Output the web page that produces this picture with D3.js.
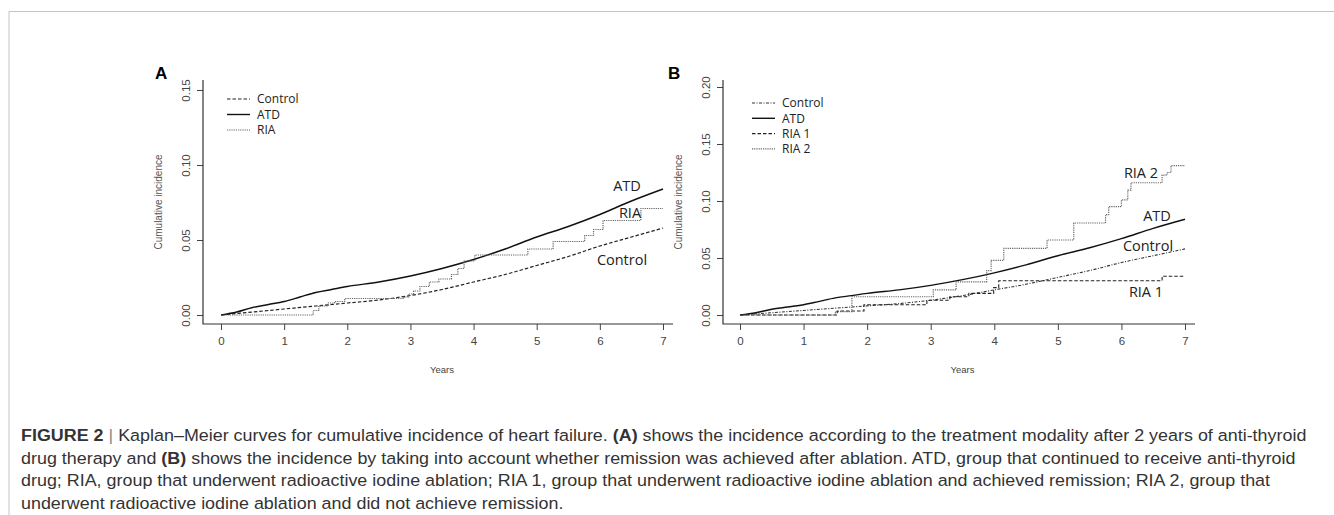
<!DOCTYPE html>
<html>
<head>
  <style>
    body { margin: 0; background: #fff; }
    svg { display: block; }
    .tick text { font-family: "Liberation Sans", Arial, sans-serif; font-size: 11.5px; fill: #444; }
    .tick line { stroke: #444; }
    .legend text, .endlab { font-family: "Open Sans", sans-serif; fill: #222; }
    .caption { font-family: "Liberation Sans", Arial, sans-serif; font-size: 17px; fill: #333; }
  </style>
</head>
<body>
  <script src="https://d3js.org/d3.v7.min.js"></script>
  <script>
    var years = [0, 1, 2, 3, 4, 5, 6, 7];
    var ticksA = [0, 0.05, 0.10, 0.15];
    var ticksB = [0, 0.05, 0.10, 0.15, 0.20];

    // smooth-looking curves (many events)
    var atd = [[0,0],[0.25,0.002],[0.5,0.005],[0.75,0.007],[1,0.009],[1.25,0.012],[1.5,0.015],[1.75,0.017],[2,0.019],[2.5,0.022],[3,0.026],[3.5,0.031],[4,0.037],[4.5,0.044],[5,0.052],[5.5,0.059],[6,0.067],[6.5,0.076],[7,0.084]];
    var control = [[0,0],[0.5,0.002],[1,0.004],[1.5,0.006],[2,0.008],[2.5,0.010],[3,0.013],[3.5,0.017],[4,0.022],[4.5,0.027],[5,0.033],[5.5,0.039],[6,0.046],[6.5,0.052],[7,0.058]];

    // step curves
    var ria = [[0,0],[1.46,0.003],[1.55,0.006],[1.7,0.008],[1.8,0.009],[1.96,0.011],[2.9,0.012],[2.97,0.014],[3.05,0.016],[3.15,0.019],[3.3,0.022],[3.45,0.024],[3.65,0.027],[3.75,0.031],[3.85,0.036],[4.02,0.040],[4.86,0.044],[5.26,0.049],[5.76,0.053],[5.9,0.057],[6.05,0.063],[6.65,0.071],[7,0.071]];
    var ria1 = [[0,0],[1.53,0.0035],[1.95,0.009],[2.94,0.013],[3.3,0.016],[3.6,0.019],[3.99,0.024],[4.07,0.030],[6.64,0.034],[7,0.034]];
    var ria2 = [[0,0],[1.5,0.003],[1.76,0.016],[3.04,0.022],[3.4,0.029],[3.88,0.039],[3.95,0.048],[4.15,0.0585],[4.83,0.0658],[5.25,0.0807],[5.75,0.088],[5.8,0.095],[6,0.101],[6.1,0.1096],[6.15,0.116],[6.64,0.1227],[6.72,0.125],[6.78,0.131],[7,0.131]];

    var captionLines = [
      [["FIGURE 2", true], [" | ", false], ["Kaplan–Meier curves for cumulative incidence of heart failure. ", false], ["(A)", true], [" shows the incidence according to the treatment modality after 2 years of anti-thyroid", false]],
      [["drug therapy and ", false], ["(B)", true], [" shows the incidence by taking into account whether remission was achieved after ablation. ATD, group that continued to receive anti-thyroid", false]],
      [["drug; RIA, group that underwent radioactive iodine ablation; RIA 1, group that underwent radioactive iodine ablation and achieved remission; RIA 2, group that", false]],
      [["underwent radioactive iodine ablation and did not achieve remission.", false]]
    ];
    var firstLineWidth = 1286;

    var W = 1334, H = 515;
    var svg = d3.select("body").append("svg").attr("width", W).attr("height", H);

    // frame
    svg.append("path").attr("d", "M9,515V11.5H1334").attr("fill", "none").attr("stroke", "#c4c4c4").attr("stroke-width", 1);

    function panel(opt) {
      var g = svg.append("g");
      var x = d3.scaleLinear().domain([0, 7]).range(opt.xr);
      var y = d3.scaleLinear().domain([0, opt.ymax]).range([315, opt.ytop]);

      g.append("g").attr("transform", "translate(0,324)")
        .call(d3.axisBottom(x).tickValues(years).tickSize(6).tickPadding(7).tickFormat(d3.format("d")))
        .call(function(a){ a.select(".domain").remove(); });

      var ya = g.append("g").attr("transform", "translate(" + opt.ax + ",0)")
        .call(d3.axisLeft(y).tickValues(opt.ticks).tickSize(6).tickFormat(d3.format(".2f")))
        .call(function(a){ a.select(".domain").remove(); });
      ya.selectAll(".tick text").attr("transform", "rotate(-90)").attr("x", 0).attr("y", -13)
        .attr("dy", "0").style("text-anchor", "middle");

      g.append("path").attr("d", "M" + opt.ax + ",80V324H" + (x(7) + 10))
        .attr("fill", "none").attr("stroke", "#333").attr("stroke-width", 1.2);

      g.append("text").attr("x", opt.lx).attr("y", 79)
        .attr("font-family", "Liberation Sans, Arial, sans-serif").attr("font-weight", "bold")
        .attr("font-size", 17).text(opt.letter);

      g.append("text").attr("transform", "translate(" + (opt.ax - 41) + ",202) rotate(-90)")
        .attr("text-anchor", "middle").attr("font-family", "Liberation Sans, Arial, sans-serif")
        .attr("font-size", 10).attr("fill", "#555").text("Cumulative incidence");

      g.append("text").attr("x", (x(0) + x(7)) / 2).attr("y", 373).attr("text-anchor", "middle")
        .attr("font-family", "Liberation Sans, sans-serif").attr("font-size", 9.5)
        .attr("fill", "#444").text("Years");

      opt.series.forEach(function(s, i) {
        var line = d3.line().x(function(d){ return x(d[0]); }).y(function(d){ return y(d[1]); })
          .curve(s.step ? d3.curveStepAfter : d3.curveMonotoneX);
        g.append("path").datum(s.data).attr("d", line).attr("fill", "none")
          .attr("stroke", s.color).attr("stroke-width", s.w)
          .attr("stroke-dasharray", s.dash);

        var ly = opt.legY + i * opt.legStep;
        var lg = g.append("g").attr("class", "legend");
        lg.append("line").attr("x1", opt.legX).attr("x2", opt.legX + 23).attr("y1", ly).attr("y2", ly)
          .attr("stroke", s.color).attr("stroke-width", s.w).attr("stroke-dasharray", s.dash);
        lg.append("text").attr("x", opt.legX + 30).attr("y", ly).attr("dy", "0.35em")
          .attr("font-size", 12).text(s.name);

        g.append("text").attr("class", "endlab").attr("x", s.lab[0]).attr("y", s.lab[1]).attr("dy", "0.35em")
          .attr("text-anchor", "middle").attr("font-size", 14.5).text(s.name);
      });
    }

    panel({
      letter: "A", lx: 155, ax: 203, xr: [221, 663], ymax: 0.15, ytop: 90, ticks: ticksA,
      legX: 227, legY: 99, legStep: 15.5,
      series: [
        { name: "Control", data: control, color: "#222", w: 1.2, dash: "3.5,2", lab: [622, 260] },
        { name: "ATD", data: atd, color: "#111", w: 1.4, dash: null, lab: [627, 186] },
        { name: "RIA", data: ria, step: true, color: "#666", w: 1.2, dash: "1.2,1", lab: [630, 213] }
      ]
    });

    panel({
      letter: "B", lx: 668, ax: 723, xr: [740, 1185], ymax: 0.20, ytop: 87, ticks: ticksB,
      legX: 752, legY: 103, legStep: 15.3,
      series: [
        { name: "Control", data: control, color: "#333", w: 1.1, dash: "3,1.5,1,1.5", lab: [1148, 246] },
        { name: "ATD", data: atd, color: "#111", w: 1.4, dash: null, lab: [1157, 216] },
        { name: "RIA 1", data: ria1, step: true, color: "#222", w: 1.1, dash: "3.5,2", lab: [1146, 292] },
        { name: "RIA 2", data: ria2, step: true, color: "#666", w: 1.2, dash: "1.2,1", lab: [1141, 173] }
      ]
    });

    // caption: one condensed scale for every line, taken from the first line
    var capG = svg.append("g");
    var rows = captionLines.map(function(parts, i) {
      var t = capG.append("text").attr("class", "caption").attr("x", 0).attr("y", 0);
      parts.forEach(function(p) {
        t.append("tspan").attr("font-weight", p[1] ? "bold" : null)
          .attr("fill", p[0] === " | " ? "#888" : null).text(p[0]);
      });
      return t;
    });
    var sx = firstLineWidth / rows[0].node().getComputedTextLength();
    rows.forEach(function(t, i) {
      t.attr("transform", "translate(21," + (441 + i * 22.5) + ") scale(" + sx + ",1)");
    });
  </script>
</body>
</html>
